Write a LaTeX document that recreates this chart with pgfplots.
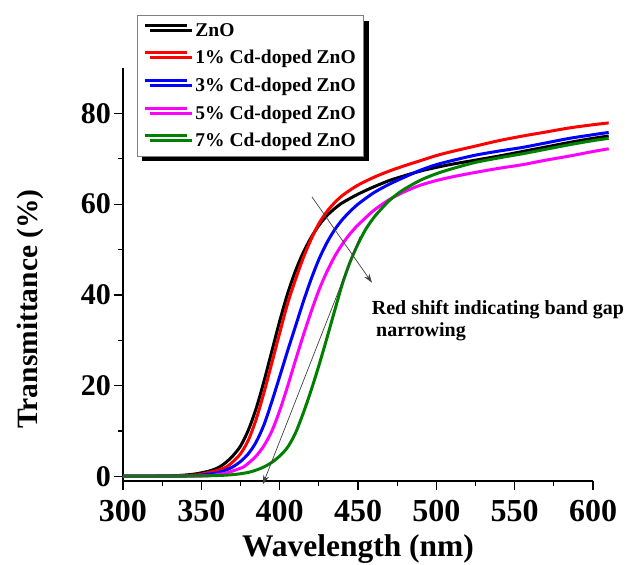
\documentclass[border=0pt]{standalone}
\usepackage{fontspec}
\setmainfont{Liberation Serif}
\usepackage{pgfplots}
\pgfplotsset{compat=1.18}
\usetikzlibrary{shadows,arrows.meta}
\definecolor{mymag}{RGB}{255,0,255}
\definecolor{myred}{RGB}{255,0,0}
\definecolor{myblue}{RGB}{0,0,255}
\definecolor{mygreen}{RGB}{0,128,0}

\pgfplotstableread{
x y
300 0.1
320 0.1
335 0.2
345 0.5
350 0.8
355 1.2
360 1.8
365 2.9
370 4.5
375 6.7
380 10.2
385 15.0
390 21.0
395 27.6
400 34.2
405 40.2
410 45.2
415 49.3
420 52.6
425 55.3
430 57.4
435 59.0
440 60.3
450 62.2
460 63.8
470 65.2
480 66.3
490 67.3
500 68.1
510 68.8
525 69.7
540 70.6
555 71.6
570 72.6
585 73.6
600 74.5
610 75.0
}\zno

\pgfplotstableread{
x y
300 0.1
330 0.1
345 0.3
350 0.5
355 0.9
360 1.3
366 2.1
370 3.2
375 5.0
380 8.0
385 12.6
390 18.5
395 25.0
400 31.6
405 38.0
410 43.3
415 48.1
420 52.2
425 55.7
430 58.3
435 60.3
440 61.9
445 63.1
450 64.2
460 65.9
470 67.3
480 68.5
490 69.6
500 70.7
510 71.6
525 72.8
540 74.0
555 75.0
570 75.9
585 76.8
600 77.5
610 77.9
}\cdone

\pgfplotstableread{
x y
300 0.1
340 0.1
350 0.3
360 0.8
365 1.3
370 2.1
375 3.3
380 5.0
385 7.6
390 11.4
395 16.5
400 22.0
405 27.6
410 33.0
415 38.4
420 43.4
425 47.8
430 51.4
435 54.3
440 56.6
445 58.4
450 60.0
460 62.5
470 64.4
480 66.0
490 67.5
500 68.7
510 69.6
525 70.8
540 71.7
555 72.5
570 73.5
585 74.5
600 75.3
610 75.8
}\cdthree

\pgfplotstableread{
x y
300 0.1
350 0.1
360 0.4
365 0.7
370 1.2
377 2.1
380 2.9
385 4.5
390 6.8
395 10.0
400 14.5
405 19.8
410 25.5
415 31.0
420 36.2
425 41.0
430 45.0
435 48.4
440 51.2
445 53.5
450 55.4
460 58.6
470 61.0
480 62.8
490 64.2
500 65.2
510 66.0
525 67.0
540 67.9
555 68.7
570 69.7
585 70.6
600 71.6
610 72.2
}\cdfive

\pgfplotstableread{
x y
300 0.1
340 0.1
360 0.2
370 0.4
375 0.6
380 0.9
385 1.4
390 2.1
395 3.1
400 4.5
405 6.4
410 9.5
415 13.9
420 18.9
425 24.4
430 30.3
435 36.4
440 42.4
445 47.3
450 51.2
455 54.5
460 57.0
465 59.0
470 60.8
475 62.2
480 63.4
490 65.3
500 66.7
510 67.8
525 69.2
540 70.2
555 71.1
570 72.1
585 73.1
600 74.0
610 74.5
}\cdseven

\begin{document}
\begin{tikzpicture}
\begin{axis}[name=ax, scale only axis, width=470pt, height=413pt,
  xmin=300, xmax=600, ymin=-1, ymax=90,
  axis lines*=left, axis line style={line width=1.5pt},
  clip=false,
  xtick={300,350,...,600}, ytick={0,20,...,80},
  minor x tick num=1, minor y tick num=1,
  tick align=outside, major tick length=8.5pt, minor tick length=5pt,
  every tick/.style={black, line width=1.3pt},
  /pgf/number format/assume math mode=true,
  yticklabel style={font=\bfseries\fontsize{30}{30}\selectfont},
  xticklabel style={font=\bfseries\fontsize{32}{32}\selectfont, yshift=-7pt},
  xlabel={Wavelength (nm)}, ylabel={Transmittance (\%)},
  every axis x label/.style={at={(axis description cs:0.5,-0.1816)}, anchor=base, font=\bfseries\fontsize{31.5}{31.5}\selectfont},
  every axis y label/.style={at={(axis description cs:-0.1809,0.4165)}, rotate=90, anchor=base, font=\bfseries\fontsize{29.5}{29.5}\selectfont},
  legend style={at={(axis description cs:0.0298,1.128)}, anchor=north west, draw=gray, line width=0.8pt, fill=white,
    font=\bfseries\fontsize{19.5}{19.5}\selectfont, row sep=8.5pt, column sep=5pt, inner xsep=6pt, inner ysep=6pt,
    nodes={inner sep=2pt},
    drop shadow={shadow xshift=5pt, shadow yshift=-5pt, fill=black, opacity=1}},
  legend cell align=left,
  legend image code/.code={\draw[#1, line width=3pt] (0pt,5pt) -- (42pt,5pt);},
]
\addplot[black, line width=3pt, smooth, line join=round] table[x=x,y=y] {\zno};
\addlegendentry{ZnO}
\addplot[myred, line width=3pt, smooth, line join=round] table[x=x,y=y] {\cdone};
\addlegendentry{1\% Cd-doped ZnO}
\addplot[myblue, line width=3pt, smooth, line join=round] table[x=x,y=y] {\cdthree};
\addlegendentry{3\% Cd-doped ZnO}
\addplot[mymag, line width=3pt, smooth, line join=round] table[x=x,y=y] {\cdfive};
\addlegendentry{5\% Cd-doped ZnO}
\addplot[mygreen, line width=3pt, smooth, line join=round] table[x=x,y=y] {\cdseven};
\addlegendentry{7\% Cd-doped ZnO}

\draw[-{Stealth[length=9pt,width=6pt]}, line width=0.7pt, black!75] (axis cs:420.6,61.6) -- (axis cs:458.9,42.7);
\draw[-{Stealth[length=9pt,width=6pt]}, line width=0.7pt, black!75] (axis cs:451.2,52.8) -- (axis cs:389.3,-1.7);
\node[anchor=base west, inner sep=0pt, font=\bfseries\fontsize{20}{20}\selectfont] at (axis cs:458.7,35.6) {Red shift indicating band gap};
\node[anchor=base west, inner sep=0pt, font=\bfseries\fontsize{20}{20}\selectfont] at (axis cs:461.5,30.8) {narrowing};
\end{axis}
\pgfresetboundingbox
\path[use as bounding box] (ax.south west) ++(-123pt,-83pt) rectangle ++(644pt,564pt);
\end{tikzpicture}
\end{document}
